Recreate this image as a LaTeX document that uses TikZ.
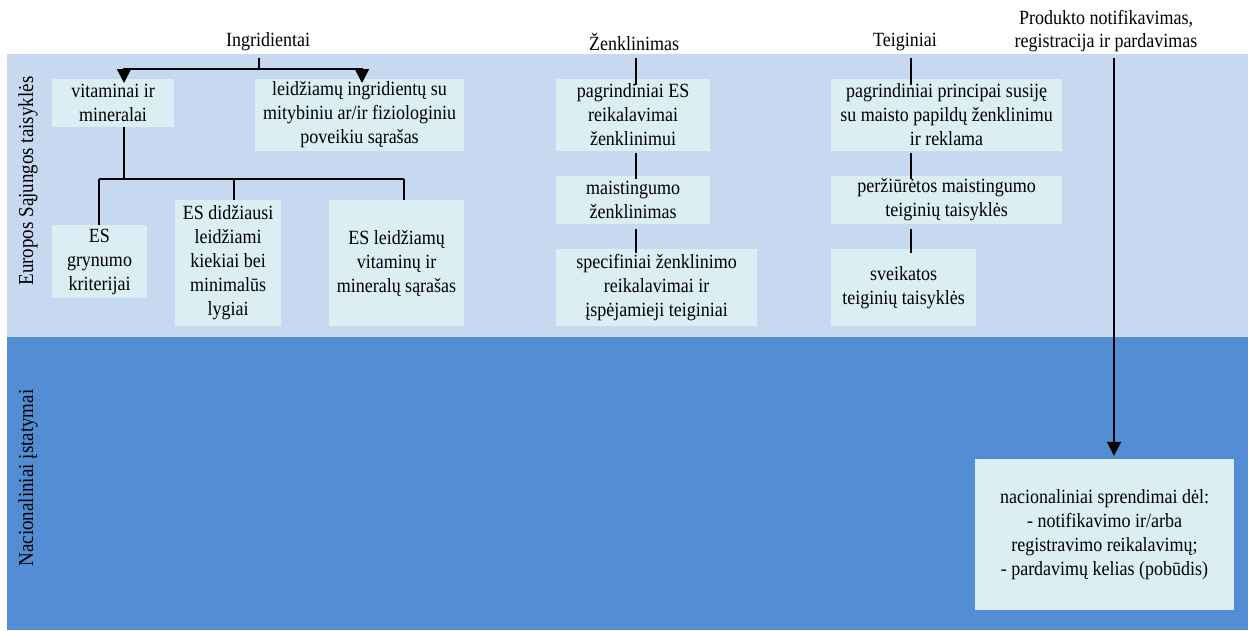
\documentclass[tikz,border=0pt]{standalone}
\usepackage{fontspec}
\setmainfont{Liberation Serif}
\usetikzlibrary{arrows.meta}
\definecolor{eucol}{HTML}{C6D9F1}
\definecolor{natcol}{HTML}{538ED5}
\definecolor{boxcol}{HTML}{DBEEF4}
\newcommand\dfont{\fontsize{18}{21.4}\selectfont}
\begin{document}
\begin{tikzpicture}[x=1pt,y=-1pt,
  box/.style={fill=boxcol, inner sep=0pt},
  txt/.style={inner sep=0pt, align=center, font=\dfont, yscale=1.12, transform shape},
  lbl/.style={txt},
  side/.style={inner sep=0pt, align=center, font=\fontsize{19}{22}\selectfont, rotate=90, yscale=1.12, transform shape},
  conn/.style={line width=1.8pt, black},
  arr/.style={conn, -{Triangle[width=14pt,length=14pt]}}]
\useasboundingbox (0,0) rectangle (1248,630);
% bands
\fill[eucol] (7,54) rectangle (1248,337);
\fill[natcol] (7,337) rectangle (1248,630);
\node[side] (eu) at (28,181) {Europos Sąjungos taisyklės};
\node[side] (nat) at (28,478) {Nacionaliniai įstatymai};
% headers
\node[lbl] (hI) at (268,42) {Ingridientai};
\node[lbl] (hZ) at (634,42) {Ženklinimas};
\node[lbl] (hT) at (905,42) {Teiginiai};
\node[lbl, font=\fontsize{18}{20.5}\selectfont] (hP) at (1106,31) {Produkto notifikavimas,\\registracija ir pardavimas};
% boxes
\node[box, minimum width=122pt, minimum height=48pt] (b1) at (113,103) {};
\node[box, minimum width=209pt, minimum height=72pt] (b2) at (359.5,115) {};
\node[box, minimum width=95pt, minimum height=73pt] (b3) at (99.5,261.5) {};
\node[box, minimum width=106pt, minimum height=126pt] (b4) at (228,263) {};
\node[box, minimum width=135pt, minimum height=126pt] (b5) at (396.5,263) {};
\node[box, minimum width=154pt, minimum height=72pt] (b6) at (633,115) {};
\node[box, minimum width=154pt, minimum height=48pt] (b7) at (633,200) {};
\node[box, minimum width=201pt, minimum height=77pt] (b8) at (656.5,287.5) {};
\node[box, minimum width=231pt, minimum height=72pt] (b9) at (946.5,115) {};
\node[box, minimum width=231pt, minimum height=48pt] (b10) at (946.5,200) {};
\node[box, minimum width=145pt, minimum height=77pt] (b11) at (903.5,287.5) {};
\node[box, minimum width=259pt, minimum height=151pt] (b12) at (1104.5,534.5) {};
% box texts
\node[txt] (t1) at (b1) {vitaminai ir\\mineralai};
\node[txt] (t2) at (b2) {leidžiamų ingridientų su\\mitybiniu ar/ir fiziologiniu\\poveikiu sąrašas};
\node[txt] (t3) at (b3) {ES\\grynumo\\kriterijai};
\node[txt] (t4) at (b4) {ES didžiausi\\leidžiami\\kiekiai bei\\minimalūs\\lygiai};
\node[txt] (t5) at (b5) {ES leidžiamų\\vitaminų ir\\mineralų sąrašas};
\node[txt] (t6) at (b6) {pagrindiniai ES\\reikalavimai\\ženklinimui};
\node[txt] (t7) at (b7) {maistingumo\\ženklinimas};
\node[txt] (t8) at (b8) {specifiniai ženklinimo\\reikalavimai ir\\įspėjamieji teiginiai};
\node[txt] (t9) at (b9) {pagrindiniai principai susiję\\su maisto papildų ženklinimu\\ir reklama};
\node[txt] (t10) at (b10) {peržiūrėtos maistingumo\\teiginių taisyklės};
\node[txt] (t11) at (b11) {sveikatos\\teiginių taisyklės};
\node[txt] (t12) at (b12) {nacionaliniai sprendimai dėl:\\- notifikavimo ir/arba\\registravimo reikalavimų;\\- pardavimų kelias (pobūdis)};
% named points
\coordinate (xI) at (259,0);
\coordinate (xV) at (124,0);
\coordinate (xL) at (362,0);
\coordinate (x3) at (99,0);
\coordinate (x4) at (234,0);
\coordinate (x5) at (404,0);
\coordinate (xZ) at (636,0);
\coordinate (xT) at (911,0);
\coordinate (xP) at (1114,0);
\coordinate (yTop) at (0,58);
\coordinate (yBar) at (0,69);
\coordinate (yArr) at (0,83);
\coordinate (yMid) at (0,179);
% Ingridientai
\draw[conn] (yTop -| xI) -- (yBar -| xI);
\draw[arr] (yBar -| xI) -| (yArr -| xV);
\draw[arr] (yBar -| xI) -| (yArr -| xL);
\draw[conn] (b1.south -| xV) -- (yMid -| xV);
\draw[conn] (yMid -| x3) -- (yMid -| x5);
\draw[conn] (yMid -| x3) -- (b3.north -| x3);
\draw[conn] (yMid -| x4) -- (b4.north -| x4);
\draw[conn] (yMid -| x5) -- (b5.north -| x5);
% Zenklinimas
\draw[conn] (yTop -| xZ) -- ([yshift=-6pt]b6.north -| xZ);
\draw[conn] ([yshift=-2pt]b6.south -| xZ) -- ([yshift=-3pt]b7.north -| xZ);
\draw[conn] ([yshift=-5pt]b7.south -| xZ) -- ([yshift=-4pt]b8.north -| xZ);
% Teiginiai
\draw[conn] (yTop -| xT) -- ([yshift=-6pt]b9.north -| xT);
\draw[conn] ([yshift=-2pt]b9.south -| xT) -- ([yshift=-3pt]b10.north -| xT);
\draw[conn] ([yshift=-5pt]b10.south -| xT) -- ([yshift=-4pt]b11.north -| xT);
% Produkto
\draw[arr] (yTop -| xP) -- ([yshift=3pt]b12.north -| xP);
\end{tikzpicture}
\end{document}
